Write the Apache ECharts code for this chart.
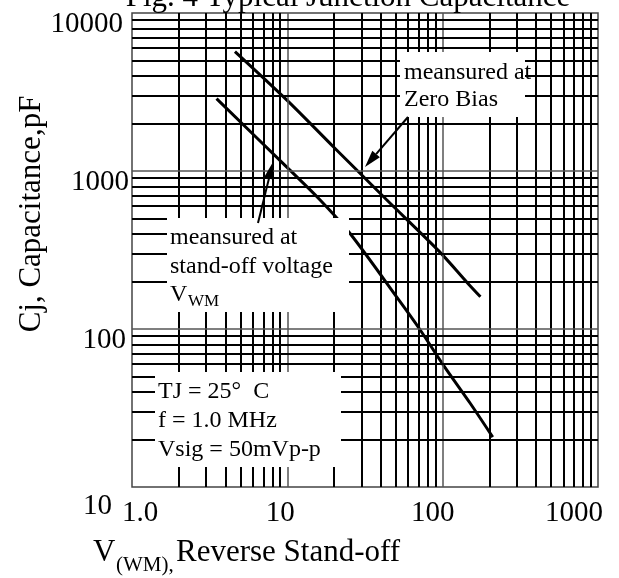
<!DOCTYPE html>
<html><head><meta charset="utf-8">
<script src="https://cdn.jsdelivr.net/npm/echarts@6/dist/echarts.min.js"></script>
<style>html,body{margin:0;padding:0;background:#fff}#c{width:619px;height:578px}</style>
</head><body><div id="c"></div>
<script>
// ---- data ----
const zeroBiasV = [4.6, 9.9, 19.7, 28.4, 43.4, 95, 145, 175];
const zeroBiasC = [5700, 2820, 1430, 1000, 660, 310, 195, 160];
const standoffV = [3.5, 10, 16.2, 25.2, 52.9, 71, 100, 150, 210];
const standoffC = [2870, 1050, 658, 405, 150, 100, 60, 34, 20.7];
const xMinorGrid = [2,3,4,5,6,7,8,9,20,30,40,50,60,70,80,90,200,300,400,500,600,700,800,900];
const xMajorGrid = [10,100];
const yMinorGrid = [20,30,40,50,60,70,80,90,200,300,400,500,600,700,800,900,2000,3000,4000,5000,6000,7000,8000,9000];
const yMajorGrid = [100,1000];
const xTickText = ['1.0','10','100','1000'];
const yTickText = ['10','100','1000','10000'];

const FONT = '"Liberation Serif", "Times New Roman", serif';
const chart = echarts.init(document.getElementById('c'));

function txt(text, x, y, size, extra) {
  return Object.assign({
    type: 'text', z: 101, x: x, y: y,
    style: Object.assign({text: text, font: size + 'px ' + FONT, fill: '#000',
      align: 'left', verticalAlign: 'middle'}, (extra || {}))
  });
}
function arrow(x1, y1, x2, y2) {
  const dx = x2 - x1, dy = y2 - y1, L = Math.hypot(dx, dy);
  const ux = dx / L, uy = dy / L, hl = 17, hw = 5;
  const bx = x2 - ux * hl, by = y2 - uy * hl;
  return [
    {type: 'line', z: 102, shape: {x1: x1, y1: y1, x2: bx, y2: by}, style: {stroke: '#000', lineWidth: 2}},
    {type: 'polygon', z: 102, shape: {points: [[x2, y2], [bx - uy * hw, by + ux * hw], [bx + uy * hw, by - ux * hw]]}, style: {fill: '#000'}}
  ];
}
const xr = {fontFamily: FONT, fontSize: 29, color: '#000'};
const gridLines = []
  .concat(xMinorGrid.map(v => ({xAxis: v, lineStyle: {color: '#000', width: 2, type: 'solid'}})))
  .concat(xMajorGrid.map(v => ({xAxis: v, lineStyle: {color: '#555', width: 1.5, type: 'solid'}})))
  .concat(yMinorGrid.map(v => ({yAxis: v, lineStyle: {color: '#000', width: 2, type: 'solid'}})))
  .concat(yMajorGrid.map(v => ({yAxis: v, lineStyle: {color: '#555', width: 1.5, type: 'solid'}})));

const option = {
  animation: false,
  backgroundColor: '#fff',
  grid: {left: 132, right: 21, top: 13, bottom: 91, show: true, borderColor: '#444', borderWidth: 1.5, backgroundColor: '#fff'},
  xAxis: {
    type: 'log', logBase: 10, min: 1, max: 1000,
    axisLine: {show: false}, axisTick: {show: false}, splitLine: {show: false},
    axisLabel: {
      margin: 12, showMinLabel: true, showMaxLabel: true, hideOverlap: false,
      fontFamily: FONT, fontSize: 29, color: '#000',
      formatter: function (v) { const i = Math.round(Math.log10(v)); return '{x' + i + '|' + xTickText[i] + '}'; },
      rich: {
        x0: Object.assign({padding: [0, 0, 0, 16]}, xr),
        x1: Object.assign({padding: [0, 14, 0, 0]}, xr),
        x2: Object.assign({padding: [0, 20, 0, 0]}, xr),
        x3: Object.assign({padding: [0, 48, 0, 0]}, xr)
      }
    }
  },
  yAxis: {
    type: 'log', logBase: 10, min: 10, max: 10000,
    axisLine: {show: false}, axisTick: {show: false}, splitLine: {show: false},
    axisLabel: {
      margin: 3, showMinLabel: true, showMaxLabel: true, hideOverlap: false,
      fontFamily: FONT, fontSize: 29, color: '#000',
      formatter: function (v) { const i = Math.round(Math.log10(v)) - 1; return '{y' + i + '|' + yTickText[i] + '}'; },
      rich: {
        y0: Object.assign({padding: [39, 17, 0, 0]}, xr),
        y1: Object.assign({padding: [22, 3, 0, 0]}, xr),
        y2: Object.assign({padding: [22, 0, 0, 0]}, xr),
        y3: Object.assign({padding: [22, 6, 0, 0]}, xr)
      }
    }
  },
  series: [
    {type: 'line', name: 'grid', data: [], z: 1, silent: true,
     markLine: {silent: true, symbol: 'none', animation: false, label: {show: false}, data: gridLines}},
    {type: 'line', name: 'Zero Bias', z: 3, smooth: 0.3, symbol: 'none', silent: true,
     lineStyle: {color: '#000', width: 3}, data: zeroBiasV.map((v, i) => [v, zeroBiasC[i]])},
    {type: 'line', name: 'Stand-off', z: 3, smooth: 0.3, symbol: 'none', silent: true,
     lineStyle: {color: '#000', width: 3}, data: standoffV.map((v, i) => [v, standoffC[i]])}
  ],
  graphic: [
    txt('Fig. 4 Typical Junction Capacitance', 348, -2, 31, {align: 'center'}),
    Object.assign(txt('Cj, Capacitance,pF', 32, 214, 31, {align: 'center'}), {rotation: Math.PI / 2}),
    txt('V', 93, 553, 31),
    txt('(WM),', 116, 565, 21),
    txt('Reverse Stand-off', 176, 553, 31),
    {type: 'rect', z: 100, shape: {x: 400, y: 52, width: 125, height: 65}, style: {fill: '#fff'}},
    txt('meansured at', 404, 73, 24),
    txt('Zero Bias', 404, 100, 24),
    {type: 'rect', z: 100, shape: {x: 167, y: 218, width: 182, height: 94}, style: {fill: '#fff'}},
    txt('meansured at', 170, 238, 24),
    txt('stand-off voltage', 170, 267, 24),
    txt('V', 170, 295, 24),
    txt('WM', 188, 302, 17),
    {type: 'rect', z: 100, shape: {x: 155, y: 372, width: 186, height: 95}, style: {fill: '#fff'}},
    txt('TJ = 25°  C', 158, 392, 24),
    txt('f = 1.0 MHz', 158, 421, 24),
    txt('Vsig = 50mVp-p', 158, 450, 24)
  ].concat(arrow(408, 117, 365, 167)).concat(arrow(258, 223, 273, 162))
};
chart.setOption(option);
</script>
</body></html>
